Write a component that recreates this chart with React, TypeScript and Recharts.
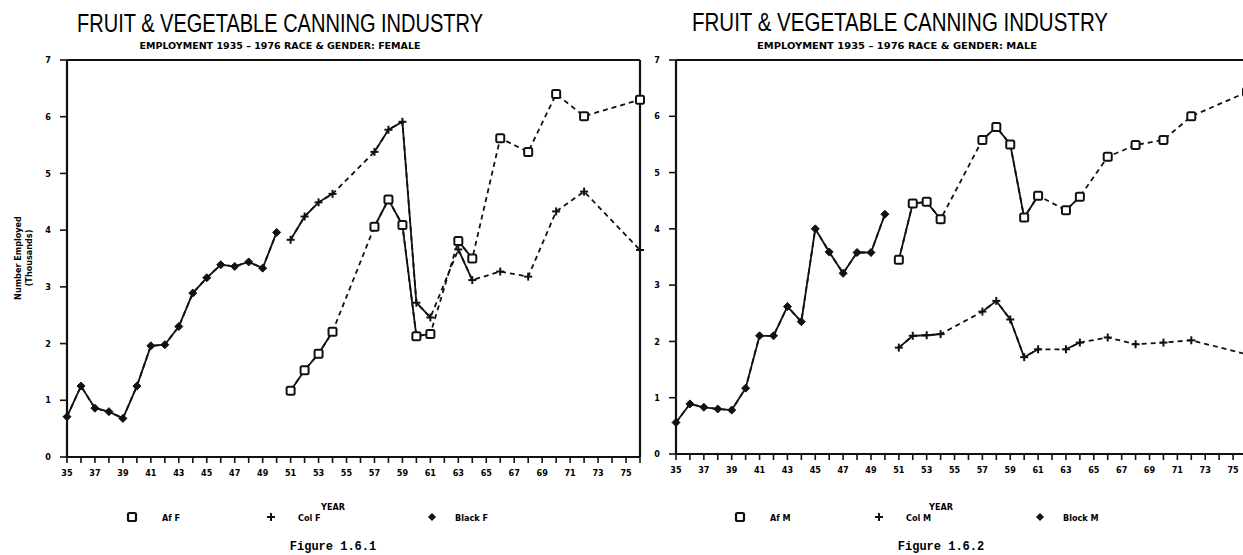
import React from "react";
import { LineChart, Line, XAxis, YAxis, ReferenceLine } from "recharts";

// ---------- data ----------
const years = [
  1935, 1936, 1937, 1938, 1939, 1940, 1941, 1942, 1943, 1944, 1945, 1946, 1947, 1948,
  1949, 1950, 1951, 1952, 1953, 1954, 1955, 1956, 1957, 1958, 1959, 1960, 1961, 1962,
  1963, 1964, 1965, 1966, 1967, 1968, 1969, 1970, 1971, 1972, 1973, 1974, 1975, 1976,
];
const labeledYears = [
  1935, 1937, 1939, 1941, 1943, 1945, 1947, 1949, 1951, 1953, 1955, 1957, 1959, 1961,
  1963, 1965, 1967, 1969, 1971, 1973, 1975,
];
const yTicks = [0, 1, 2, 3, 4, 5, 6, 7];

const earlyYears = [
  1935, 1936, 1937, 1938, 1939, 1940, 1941, 1942, 1943, 1944, 1945, 1946, 1947, 1948, 1949, 1950,
];
const laterYears = [
  1951, 1952, 1953, 1954, 1957, 1958, 1959, 1960, 1961, 1963, 1964, 1966, 1968, 1970, 1972, 1976,
];

// Female (thousands)
const blackF = [0.71, 1.25, 0.86, 0.8, 0.68, 1.25, 1.96, 1.98, 2.3, 2.89, 3.16, 3.39, 3.36, 3.44, 3.33, 3.96];
const afF = [1.17, 1.53, 1.82, 2.21, 4.06, 4.54, 4.09, 2.13, 2.17, 3.81, 3.5, 5.62, 5.38, 6.4, 6.01, 6.3];
const colF = [3.83, 4.24, 4.49, 4.64, 5.38, 5.77, 5.91, 2.72, 2.46, 3.66, 3.12, 3.27, 3.18, 4.33, 4.68, 3.65];

// Male (thousands)
const blackM = [0.56, 0.89, 0.83, 0.8, 0.78, 1.17, 2.1, 2.1, 2.62, 2.35, 4.0, 3.59, 3.21, 3.58, 3.58, 4.26];
const afM = [3.45, 4.45, 4.48, 4.17, 5.58, 5.81, 5.5, 4.2, 4.59, 4.33, 4.57, 5.28, 5.49, 5.58, 6.0, 6.43];
const colM = [1.89, 2.1, 2.11, 2.13, 2.53, 2.72, 2.39, 1.72, 1.86, 1.86, 1.98, 2.07, 1.95, 1.98, 2.02, 1.77];

function buildRows(sets: { key: string; yrs: number[]; vals: number[] }[]) {
  return years.map((y) => {
    const row: any = { year: y };
    sets.forEach((s) => {
      const i = s.yrs.indexOf(y);
      row[s.key] = i >= 0 ? s.vals[i] : null;
    });
    return row;
  });
}

const femaleRows = buildRows([
  { key: "black", yrs: earlyYears, vals: blackF },
  { key: "af", yrs: laterYears, vals: afF },
  { key: "col", yrs: laterYears, vals: colF },
]);
const maleRows = buildRows([
  { key: "black", yrs: earlyYears, vals: blackM },
  { key: "af", yrs: laterYears, vals: afM },
  { key: "col", yrs: laterYears, vals: colM },
]);

// ---------- markers ----------
const INK = "#111";

const SquareDot = (p: any) => {
  if (p.cx == null || p.cy == null || p.value == null) return <g key={p.key} />;
  return (
    <rect key={p.key} x={p.cx - 4} y={p.cy - 4} width={8} height={8} rx={1.5}
      fill="#fff" stroke={INK} strokeWidth={2} />
  );
};
const PlusDot = (p: any) => {
  if (p.cx == null || p.cy == null || p.value == null) return <g key={p.key} />;
  return (
    <g key={p.key}>
      <line x1={p.cx - 4} y1={p.cy} x2={p.cx + 4} y2={p.cy} stroke={INK} strokeWidth={2} />
      <line x1={p.cx} y1={p.cy - 4} x2={p.cx} y2={p.cy + 4} stroke={INK} strokeWidth={2} />
    </g>
  );
};
const DiamondDot = (p: any) => {
  if (p.cx == null || p.cy == null || p.value == null) return <g key={p.key} />;
  const r = 4;
  return (
    <path key={p.key}
      d={`M${p.cx},${p.cy - r} L${p.cx + r},${p.cy} L${p.cx},${p.cy + r} L${p.cx - r},${p.cy} Z`}
      fill={INK} stroke={INK} strokeWidth={1} />
  );
};

const tickFont = "'Liberation Sans Narrow', 'DejaVu Sans Condensed', 'DejaVu Sans', sans-serif";
const tickStyle = { fontSize: 9, fontWeight: 700, fill: "#000", fontFamily: tickFont };

function seriesLines(key: string, Dot: any) {
  return [
    <Line key={key + "-gap"} dataKey={key} type="linear" stroke={INK} strokeWidth={1.8}
      strokeDasharray="5 4" connectNulls dot={false} activeDot={false} isAnimationActive={false} />,
    <Line key={key + "-run"} dataKey={key} type="linear" stroke={INK} strokeWidth={1.8}
      connectNulls={false} dot={Dot} activeDot={false} isAnimationActive={false} />,
  ];
}

function Panel(props: { rows: any[]; width: number; margin: any; showRightBorder: boolean }) {
  return (
    <LineChart width={props.width} height={500} data={props.rows} margin={props.margin}>
      <XAxis
        dataKey="year" type="number" domain={[1935, 1976]} ticks={years} interval={0}
        allowDecimals={false}
        tickFormatter={(v: number) => (labeledYears.includes(v) ? String(v).slice(2) : "")}
        tick={tickStyle} tickSize={6} tickMargin={7} height={30}
        axisLine={{ stroke: INK, strokeWidth: 2.2 }} tickLine={{ stroke: INK, strokeWidth: 1.6 }}
      />
      <YAxis
        type="number" domain={[0, 7]} ticks={yTicks} interval={0} width={30}
        tick={tickStyle} tickSize={7} tickMargin={9}
        axisLine={{ stroke: INK, strokeWidth: 2.2 }} tickLine={{ stroke: INK, strokeWidth: 1.6 }}
      />
      <ReferenceLine y={7} stroke={INK} strokeWidth={2} ifOverflow="extendDomain" />
      {props.showRightBorder ? <ReferenceLine x={1976} stroke={INK} strokeWidth={2.2} /> : null}
      {seriesLines("black", DiamondDot)}
      {seriesLines("col", PlusDot)}
      {seriesLines("af", SquareDot)}
    </LineChart>
  );
}

function Legend(props: { cx: number; g: string; black: string }) {
  const c = props.cx;
  const y = 517;
  const ts = { fontSize: 9, fontWeight: 700, fontFamily: tickFont, fill: "#000" } as any;
  return (
    <g>
      <text x={c - 20} y={510} textAnchor="middle" {...ts}>YEAR</text>
      <rect x={c - 225} y={y - 4} width={8} height={8} rx={1.5} fill="#fff" stroke={INK} strokeWidth={2.2} />
      <text x={c - 191} y={y + 3.5} {...ts}>{"Af " + props.g}</text>
      <line x1={c - 86} y1={y} x2={c - 78} y2={y} stroke={INK} strokeWidth={2} />
      <line x1={c - 82} y1={y - 4} x2={c - 82} y2={y + 4} stroke={INK} strokeWidth={2} />
      <text x={c - 55} y={y + 3.5} {...ts}>{"Col " + props.g}</text>
      <path d={`M${c + 79},${y - 4} L${c + 83},${y} L${c + 79},${y + 4} L${c + 75},${y} Z`} fill={INK} />
      <text x={c + 102} y={y + 3.5} {...ts}>{props.black}</text>
      <text x={c - 20} y={550} textAnchor="middle"
        style={{ fontFamily: "'Liberation Mono', 'DejaVu Sans Mono', monospace", fontWeight: 700, fontSize: 12 }}
        fill="#000">{props.g === "F" ? "Figure 1.6.1" : "Figure 1.6.2"}</text>
    </g>
  );
}

export default function App() {
  const titleFont = "'Liberation Sans', 'DejaVu Sans', sans-serif";
  return (
    <div style={{ position: "fixed", left: 0, top: 0, width: 1243, height: 555, overflow: "hidden", background: "#fff" }}>
      <div style={{ position: "absolute", left: 0, top: 0 }}>
        <Panel rows={femaleRows} width={650}
          margin={{ top: 60, right: 10, bottom: 13, left: 37 }} showRightBorder={true} />
      </div>
      <div style={{ position: "absolute", left: 600, top: 0 }}>
        <Panel rows={maleRows} width={660}
          margin={{ top: 60, right: 13, bottom: 16, left: 46 }} showRightBorder={true} />
      </div>
      <svg width={1243} height={555} style={{ position: "absolute", left: 0, top: 0, pointerEvents: "none" }}>
        <text x={280} y={32} textAnchor="middle" textLength={406} lengthAdjust="spacingAndGlyphs"
          style={{ fontFamily: titleFont, fontSize: 25, fontWeight: 400 }} fill="#000">
          FRUIT &amp; VEGETABLE CANNING INDUSTRY
        </text>
        <text x={280} y={49} textAnchor="middle" textLength={281} lengthAdjust="spacingAndGlyphs"
          style={{ fontFamily: tickFont, fontSize: 9.5, fontWeight: 700 }} fill="#000">
          EMPLOYMENT 1935 – 1976 RACE &amp; GENDER: FEMALE
        </text>
        <text x={900} y={31} textAnchor="middle" textLength={416} lengthAdjust="spacingAndGlyphs"
          style={{ fontFamily: titleFont, fontSize: 25, fontWeight: 400 }} fill="#000">
          FRUIT &amp; VEGETABLE CANNING INDUSTRY
        </text>
        <text x={897} y={49} textAnchor="middle" textLength={280} lengthAdjust="spacingAndGlyphs"
          style={{ fontFamily: tickFont, fontSize: 9.5, fontWeight: 700 }} fill="#000">
          EMPLOYMENT 1935 – 1976 RACE &amp; GENDER: MALE
        </text>
        <text transform="translate(21,258) rotate(-90)" textAnchor="middle"
          style={{ fontFamily: tickFont, fontSize: 9, fontWeight: 700 }} fill="#000">Number Employed</text>
        <text transform="translate(32,258) rotate(-90)" textAnchor="middle"
          style={{ fontFamily: tickFont, fontSize: 9, fontWeight: 700 }} fill="#000">(Thousands)</text>
        <Legend cx={353} g="F" black="Black F" />
        <Legend cx={961} g="M" black="Block M" />
      </svg>
    </div>
  );
}
